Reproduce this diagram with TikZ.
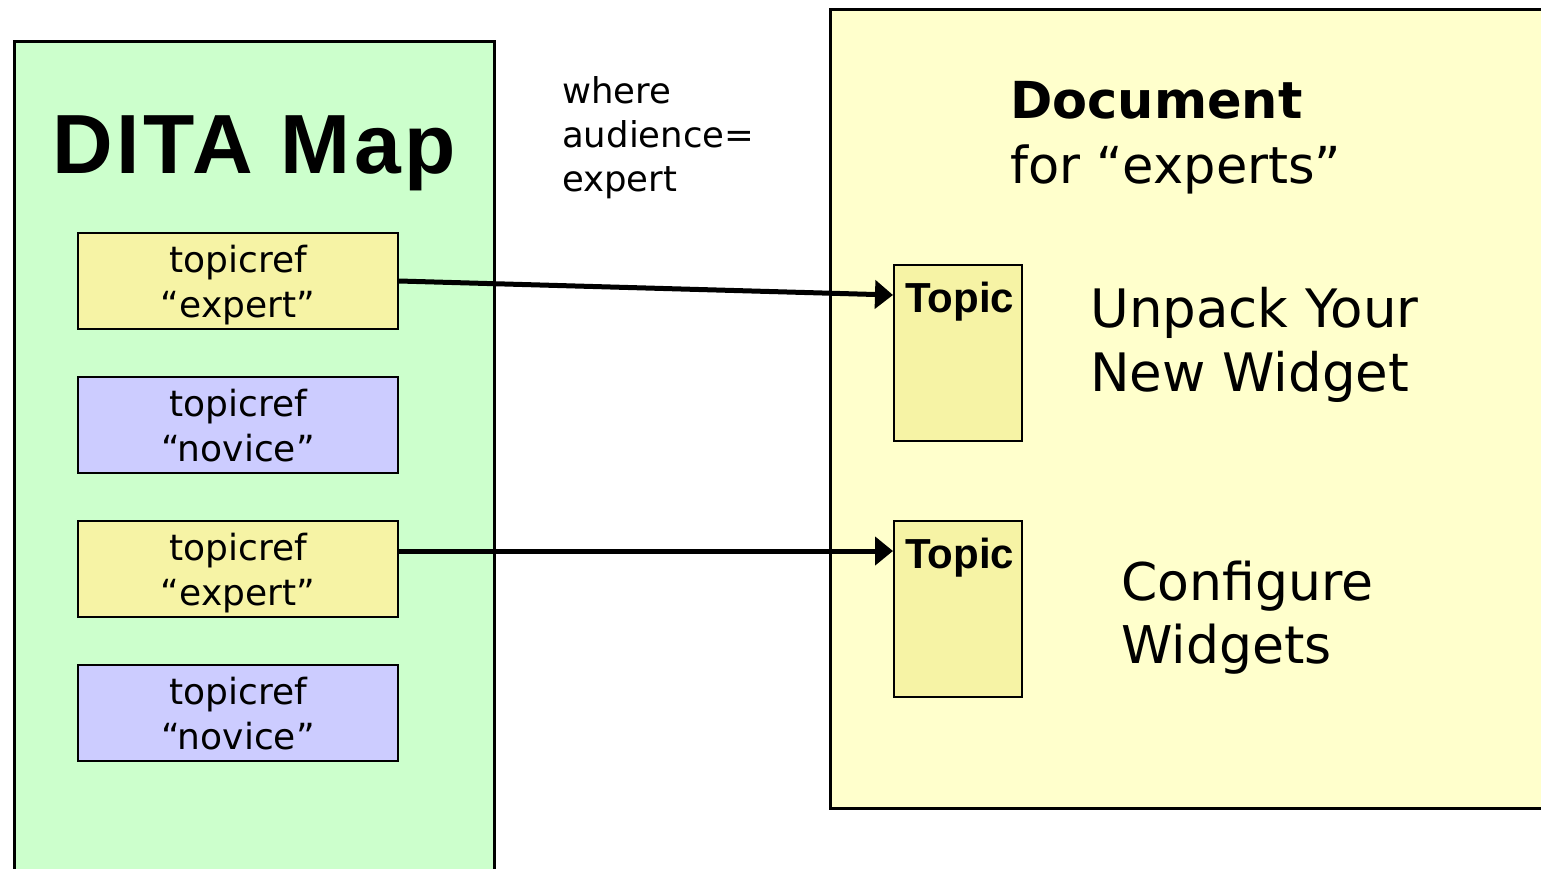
\documentclass[tikz,border=0pt]{standalone}
\usepackage{fontspec}
\setmainfont{DejaVu Sans}
\newfontfamily\headfont{Liberation Sans}
\newfontfamily\titlefont{Liberation Sans}[LetterSpace=4.5]
\usetikzlibrary{arrows.meta}

\definecolor{mapgreen}{HTML}{CCFFCC}
\definecolor{docyellow}{HTML}{FFFFCC}
\definecolor{refyellow}{HTML}{F6F3A5}
\definecolor{refblue}{HTML}{CCCCFF}

\tikzset{
  panel/.style={draw=black, line width=2.5pt, inner sep=0pt, anchor=north west},
  refbox/.style={draw=black, line width=2pt, inner sep=0pt, anchor=north west,
    minimum width=320pt, minimum height=96pt, align=center, text depth=0pt,
    font=\fontsize{36}{45}\selectfont},
  expertref/.style={refbox, fill=refyellow},
  noviceref/.style={refbox, fill=refblue},
  topicbox/.style={draw=black, line width=2pt, inner sep=0pt, anchor=north west,
    fill=refyellow, minimum width=128pt, minimum height=176pt},
  topiclabel/.style={inner sep=0pt, anchor=base west,
    font=\headfont\bfseries\fontsize{42}{48}\selectfont},
  plain/.style={inner sep=0pt, anchor=base west, align=left},
  conn/.style={line width=5pt, -{Triangle[length=18pt,width=28pt]}}
}

\begin{document}
\begin{tikzpicture}[x=1pt,y=-1pt]
\useasboundingbox (0,0) rectangle (1541,868);
\clip (0,0) rectangle (1541,868);
\fill[white] (0,0) rectangle (1541,868);

% the map on the left
\node[panel, fill=mapgreen, minimum width=480pt, minimum height=900pt] (map) at (13,40) {};
\node[inner sep=0pt, anchor=base west, font=\titlefont\bfseries\fontsize{84}{90}\selectfont] (maptitle) at (52,173) {DITA Map};

\node[expertref] (tr1) at (77,232) {topicref\\“expert”};
\node[noviceref] (tr2) at (77,376) {topicref\\“novice”};
\node[expertref] (tr3) at (77,520) {topicref\\“expert”};
\node[noviceref] (tr4) at (77,664) {topicref\\“novice”};

% filter condition (anchored on the baseline of its last line)
\node[plain, font=\fontsize{35.5}{44}\selectfont] (cond) at (562,191) {where\\audience=\\expert};

% the resulting document
\node[panel, fill=docyellow, minimum width=800pt, minimum height=799pt] (doc) at (829,8) {};
\node[plain, font=\fontsize{51}{65}\selectfont] (doctitle) at (1010,183) {\textbf{Document}\\for “experts”};

\node[topicbox] (tp1) at (893,264) {};
\node[topiclabel] (tl1) at ([xshift=12pt,yshift=-48pt]tp1.north west) {Topic};
\node[plain, font=\fontsize{53}{64}\selectfont] (unpack) at (1090,391) {Unpack Your\\New Widget};

\node[topicbox] (tp2) at (893,520) {};
\node[topiclabel] (tl2) at ([xshift=12pt,yshift=-48pt]tp2.north west) {Topic};
\node[plain, font=\fontsize{52}{63}\selectfont] (config) at (1121,663) {Configure\\Widgets};

% references resolved into the document
\coordinate (in1) at ([yshift=-31pt]tp1.north west);
\coordinate (in2) at ([yshift=-31pt]tp2.north west);
\draw[conn] (tr1.east) -- (in1);
\draw[conn] (tr3.east |- in2) -- (in2);
\end{tikzpicture}
\end{document}
